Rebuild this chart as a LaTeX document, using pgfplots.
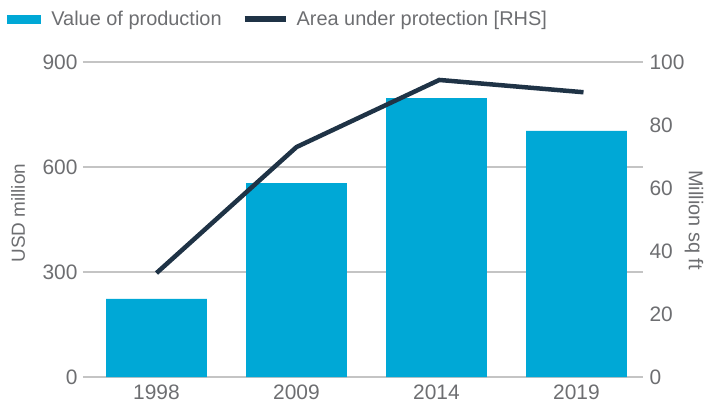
\documentclass[border=0pt]{standalone}
\usepackage{fontspec}
\setmainfont{Liberation Sans}
\usepackage{pgfplots}
\pgfplotsset{compat=1.18}
\definecolor{barc}{HTML}{00A8D6}
\definecolor{linec}{HTML}{1F3346}
\definecolor{txt}{HTML}{6D6E71}
\definecolor{gridc}{HTML}{C4C4C4}
\begin{document}
\begin{tikzpicture}
\path[use as bounding box] (-83bp,-29bp) rectangle (622bp,377bp);
\pgfplotsset{
 common/.style={scale only axis, width=560bp, height=315bp,
   xmin=-0.525, xmax=3.475,
   axis line style={draw=none}, major tick length=0pt,
   tick label style={font=\fontsize{21}{24}\selectfont, text=txt},
   label style={font=\fontsize{19}{22}\selectfont, text=txt},
   /pgf/number format/assume math mode=true},
}
\begin{axis}[common, ymin=0, ymax=900, ytick={0,300,600,900},
   xtick={0,1,2,3}, xticklabels={1998,2009,2014,2019},
   xticklabel style={yshift=-4bp},
   yticklabel style={xshift=-2bp},
   ymajorgrids, grid style={gridc, line width=1.2bp},
   ylabel={USD million},
   ylabel style={at={(axis description cs:-0.116,0.52)}, anchor=center}]
\addplot[ybar, bar width=0.72, fill=barc, draw=none] coordinates {(0,223) (1,554) (2,797) (3,703)};
\end{axis}
\begin{axis}[common, axis y line*=right, axis x line=none, ymin=0, ymax=100, ytick={0,20,...,100},
   yticklabel style={xshift=3bp},
   ylabel={Million sq ft},
   ylabel style={at={(axis description cs:1.091,0.498)}, anchor=center, rotate=180, font=\fontsize{20}{24}\selectfont},
   legend columns=2,
   legend style={at={(-0.1357,1.168)}, anchor=north west, draw=none, fill=none, inner sep=0pt,
     font=\fontsize{20}{24}\selectfont, text=txt,
     /tikz/every even column/.append style={column sep=18bp}},
   legend cell align=left]
\addlegendimage{legend image code/.code={\fill[barc] (0bp,-4bp) rectangle (33bp,4bp); \path[draw=none,fill=none] (0bp,0bp) rectangle (42bp,0.1bp);}}
\addlegendentry{Value of production}
\addplot[linec, line width=4.5bp, legend image code/.code={\draw[linec, line width=6bp] (0bp,0bp) -- (41bp,0bp); \path[draw=none,fill=none] (0bp,0bp) rectangle (50bp,0.1bp);}] coordinates {(0,33.0) (1.0,73.0) (2.02,94.3) (3.05,90.4)};
\addlegendentry{Area under protection [RHS]}
\end{axis}
\end{tikzpicture}
\end{document}
